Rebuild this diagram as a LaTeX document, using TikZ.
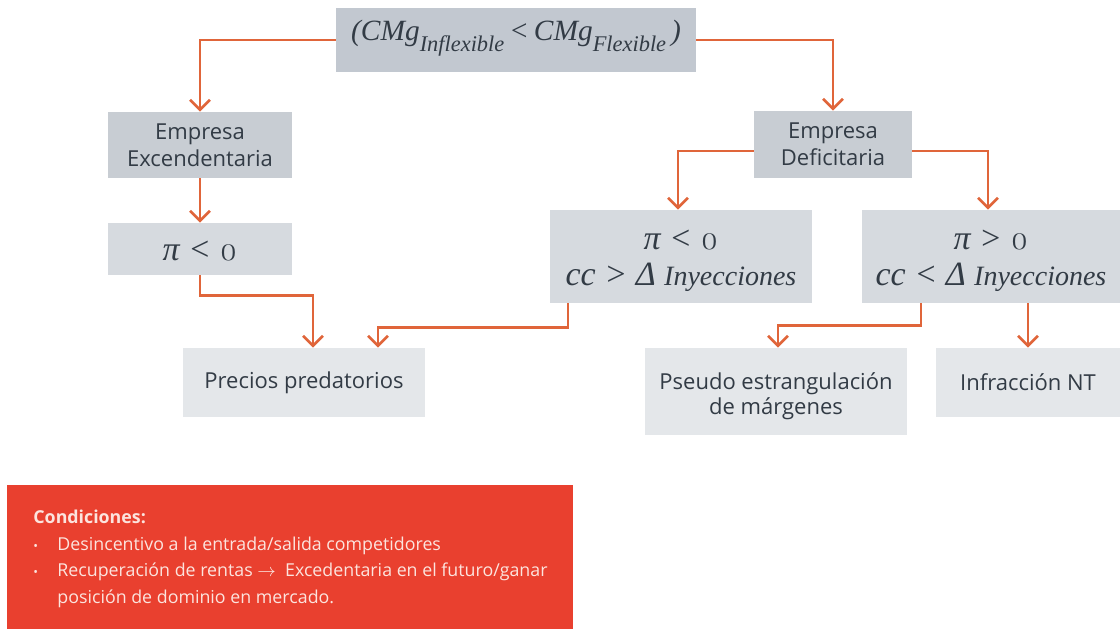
\documentclass[tikz,border=0pt]{standalone}
\usepackage{fontspec}
\setmainfont{Open Sans}
\newfontfamily\mf{Liberation Serif}
\newfontfamily\osf{Latin Modern Roman}[Numbers=OldStyle]
\usetikzlibrary{arrows.meta}
\definecolor{txt}{HTML}{323B45}
\definecolor{orng}{HTML}{E0653A}
\definecolor{gTop}{HTML}{C2C8D0}
\definecolor{gMid}{HTML}{C8CDD3}
\definecolor{gCond}{HTML}{D6DADF}
\definecolor{gLeaf}{HTML}{E4E7EA}
\definecolor{redbox}{HTML}{E9402F}
\definecolor{redtxt}{HTML}{FCE4DE}
\newcommand{\zro}{{\osf\upshape 0}}
\newcommand{\sbs}[1]{\raisebox{-5.5pt}{\fontsize{11.2}{12}\selectfont #1}}
\tikzset{
  box/.style={rectangle, inner sep=0pt, align=center, text=txt, font=\fontsize{11}{13.5}\selectfont},
  lbl/.style={inner sep=0pt, align=center, text=txt},
  mfont/.style={font=\mf\itshape\fontsize{17}{18}\selectfont},
  arr/.style={draw=orng, line width=1.4pt, -{Straight Barb[length=5pt,width=10pt,line width=1.3pt]}},
}
\begin{document}
\begin{tikzpicture}[x=0.5pt,y=-0.5pt]
\useasboundingbox (0,0) rectangle (1120,629);
\node[box, fill=gTop, minimum width=180pt, minimum height=32pt,
  label={[lbl, font=\mf\itshape\fontsize{14.7}{18}\selectfont, yshift=1pt]center:(CMg\sbs{Inflexible}\,<\,CMg\sbs{Flexible}\,)}] (top) at (516,40) {};
\node[box, fill=gMid, minimum width=92pt, minimum height=33pt] (exc) at (200,145) {Empresa\\Excendentaria};
\node[box, fill=gCond, minimum width=92pt, minimum height=26pt,
  label={[lbl, mfont, yshift=-1pt]center:π < \zro}] (pl) at (200,249) {};
\node[box, fill=gLeaf, minimum width=121pt, minimum height=34.5pt] (prec) at (304,382.5) {Precios predatorios};
\node[box, fill=gMid, minimum width=79pt, minimum height=33.5pt] (def) at (833,144.5) {Empresa\\Deficitaria};
\node[box, fill=gCond, minimum width=131pt, minimum height=46.5pt,
  label={[lbl, mfont, yshift=-2pt]center:π < \zro\\cc > Δ {\fontsize{14}{18}\selectfont Inyecciones}}] (pm) at (681,256.5) {};
\node[box, fill=gCond, minimum width=129pt, minimum height=46.5pt,
  label={[lbl, mfont, yshift=-2pt]center:π > \zro\\cc < Δ {\fontsize{14}{18}\selectfont Inyecciones}}] (pp) at (991,256.5) {};
\node[box, fill=gLeaf, minimum width=131pt, minimum height=43.5pt,
  label={[lbl, font=\fontsize{11}{12.5}\selectfont, yshift=-2.5pt]center:Pseudo estrangulación\\de márgenes}] (pseudo) at (776,391.5) {};
\node[box, fill=gLeaf, minimum width=92pt, minimum height=34.5pt] (inf) at (1028,382.5) {Infracción NT};
\node[rectangle, fill=redbox, inner sep=0pt, minimum width=283pt, minimum height=72pt, anchor=north west] (red) at (7,485) {};
\node[anchor=north west, inner sep=0pt, align=left, text=redtxt, font=\fontsize{8.9}{13.2}\selectfont] (cond) at (33,510)
  {\textbf{Condiciones:}\\
   \makebox[12pt][l]{\scalebox{0.7}{•}}Desincentivo a la entrada/salida competidores\\
   \makebox[12pt][l]{\scalebox{0.7}{•}}Recuperación de rentas $\rightarrow$\ \ Excedentaria en el futuro/ganar\\
   \hspace*{12pt}posición de dominio en mercado.};
% connectors
\draw[arr] (top.west) -| (exc.north);
\draw[arr] (top.east) -| (def.north);
\draw[arr] (exc.south) -- (pl.north);
\draw[arr] (pl.south) -- ++(0,20) -| ([xshift=4.5pt]prec.north);
\draw[arr] ([xshift=-56.5pt]pm.south) -- ++(0,24) -| ([xshift=37pt]prec.north);
\draw[arr] ([yshift=-3.25pt]def.west) -| ([xshift=-1.5pt]pm.north);
\draw[arr] ([yshift=-3.25pt]def.east) -| ([xshift=-1.5pt]pp.north);
\draw[arr] ([xshift=-35pt]pp.south) -- ++(0,22) -| ([xshift=1pt]pseudo.north);
\draw[arr] (pp.south -| inf.north) -- (inf.north);
\end{tikzpicture}
\end{document}
